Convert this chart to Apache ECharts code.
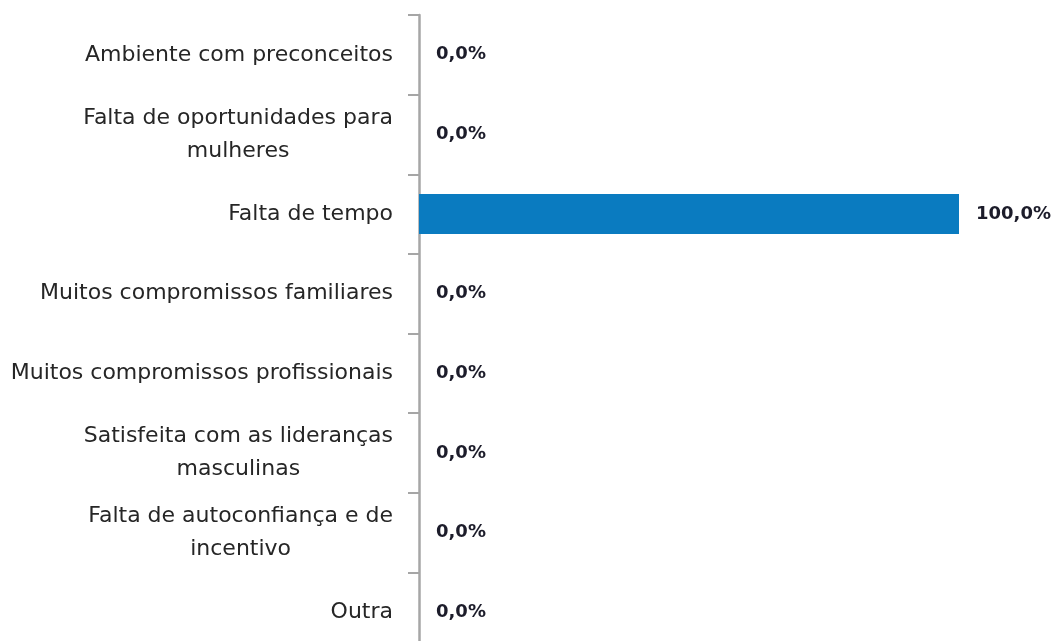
<!DOCTYPE html>
<html>
<head>
<meta charset="utf-8">
<script src="https://cdn.jsdelivr.net/npm/echarts@6/dist/echarts.min.js"></script>
<style>
  html, body { margin: 0; padding: 0; background: #fff; }
  #chart { width: 1062px; height: 641px; }
</style>
</head>
<body>
<div id="chart"></div>
<script>
  // categorias (de cima para baixo)
  let categories = [
    'Ambiente com preconceitos',
    'Falta de oportunidades para\nmulheres',
    'Falta de tempo',
    'Muitos compromissos familiares',
    'Muitos compromissos profissionais',
    'Satisfeita com as lideranças\nmasculinas',
    'Falta de autoconfiança e de\nincentivo',
    'Outra'
  ]
  let values = [0, 0, 100, 0, 0, 0, 0, 0]

  let chart = echarts.init(document.getElementById('chart'))
  chart.setOption({
    animation: false,
    grid: {
      left: 419,
      top: 15,
      width: 540,
      height: 637,
      outerBoundsMode: 'none'
    },
    xAxis: {
      type: 'value',
      min: 0,
      max: 100,
      show: false
    },
    yAxis: {
      type: 'category',
      inverse: true,
      data: categories,
      axisLine: {
        lineStyle: { color: '#a6a6a6', width: 2.5 }
      },
      axisTick: {
        show: true,
        length: 11,
        lineStyle: { color: '#a6a6a6', width: 2 }
      },
      axisLabel: {
        margin: 26,
        fontFamily: 'DejaVu Sans',
        fontSize: 22,
        color: '#262626',
        lineHeight: 33,
        formatter: function (v) {
          return v.split('\n').map(function (s) { return '{c|' + s + '}' }).join('\n')
        },
        rich: {
          c: {
            align: 'center',
            fontFamily: 'DejaVu Sans',
            fontSize: 22,
            color: '#262626',
            lineHeight: 33
          }
        }
      }
    },
    series: [{
      type: 'bar',
      data: values,
      barWidth: 40,
      itemStyle: { color: '#0a7bc0' },
      label: {
        show: true,
        position: 'right',
        distance: 17,
        fontFamily: 'DejaVu Sans',
        fontWeight: 'bold',
        fontSize: 18,
        color: '#1c1c2a',
        formatter: function (p) {
          return p.value.toFixed(1).replace('.', ',') + '%'
        }
      }
    }]
  })
</script>
</body>
</html>
